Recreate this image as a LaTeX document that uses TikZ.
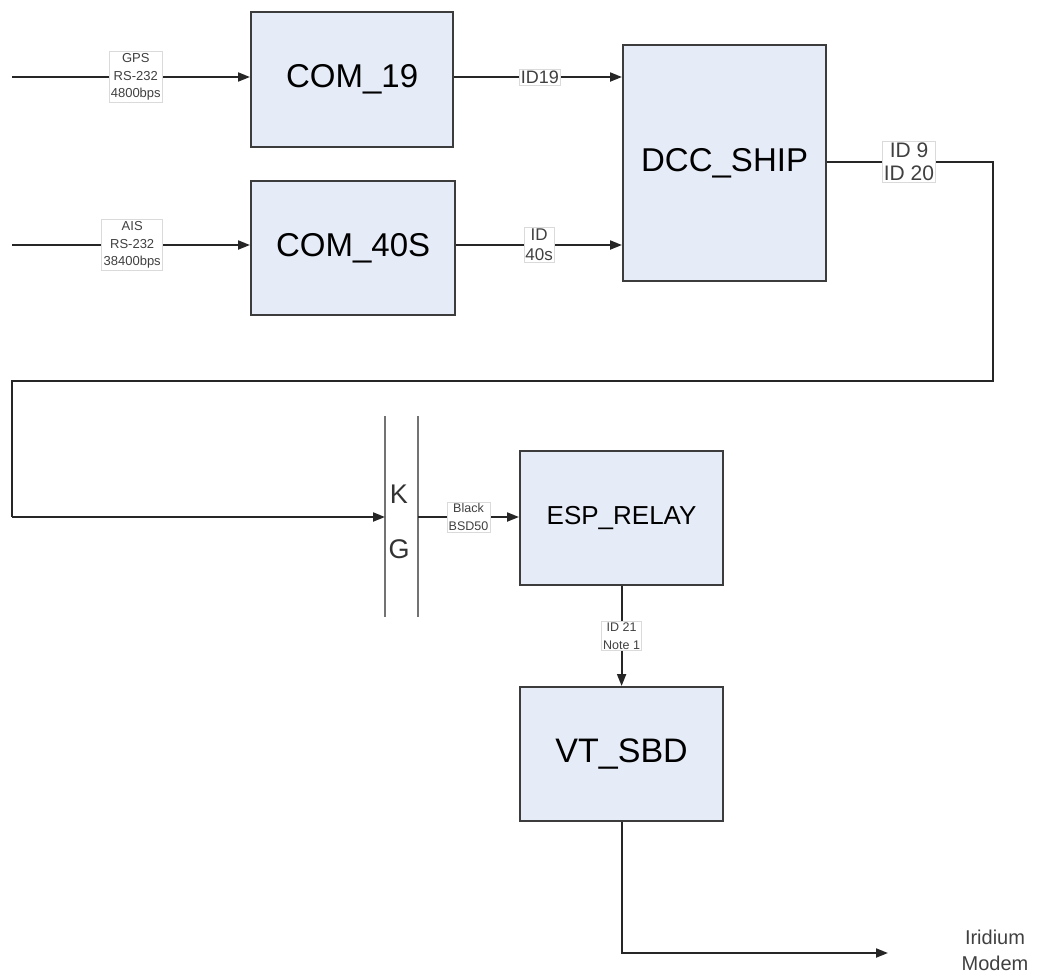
\documentclass[tikz,border=0pt]{standalone}
\usepackage{fontspec}
\setmainfont{Liberation Sans}
\usetikzlibrary{arrows.meta}
\definecolor{boxfill}{HTML}{E6ECF7}
\definecolor{boxedge}{HTML}{3C3C3C}
\definecolor{lbledge}{HTML}{DADADA}
\begin{document}
\begin{tikzpicture}[x=1pt,y=-1pt,
  blk/.style={draw=boxedge,line width=2.2pt,fill=boxfill,inner sep=0pt,anchor=north west},
  conn/.style={draw=black!85,line width=2pt},
  arr/.style={conn,-{Triangle[length=12pt,width=9pt]}},
  lbl/.style={fill=white,draw=lbledge,line width=0.6pt,align=center,inner sep=2pt,text=black!75},
  kgline/.style={draw=black!55,line width=2.4pt}]
\useasboundingbox (0,0) rectangle (1037,975);
% blocks
\node[blk,minimum width=202pt,minimum height=135pt] (c19) at (250,11) {};
\node[font=\fontsize{33}{33}\selectfont] at (c19.center) {COM\_19};
\node[blk,minimum width=204pt,minimum height=134pt] (c40) at (250,180) {};
\node[font=\fontsize{33}{33}\selectfont] at (c40.center) {COM\_40S};
\node[blk,minimum width=203pt,minimum height=236pt] (dcc) at (622,44) {};
\node[font=\fontsize{33}{33}\selectfont] at (dcc.center) {DCC\_SHIP};
\node[blk,minimum width=203pt,minimum height=134pt] (esp) at (519,450) {};
\node[font=\fontsize{26}{26}\selectfont] at (esp.center) {ESP\_RELAY};
\node[blk,minimum width=203pt,minimum height=134pt] (vt) at (519,686) {};
\node[font=\fontsize{34}{34}\selectfont] at (vt.center) {VT\_SBD};
% KG
\coordinate (kgLt) at (385,416); \coordinate (kgLb) at (385,617);
\coordinate (kgRt) at (418,416); \coordinate (kgRb) at (418,617);
\draw[kgline] (kgLt) -- (kgLb);
\draw[kgline] (kgRt) -- (kgRb);
\node[font=\fontsize{27}{27}\selectfont,text=black!80] (kK) at (399,494) {K};
\node[font=\fontsize{27}{27}\selectfont,text=black!80] (kG) at (399,549) {G};
\coordinate (kgin) at (385,517);
\coordinate (kgout) at (418,517);
% inputs
\coordinate (gpsS) at (12,77);
\coordinate (aisS) at (12,245);
\draw[arr] (gpsS) -- (gpsS -| c19.west) node[lbl,pos=0.52,font=\fontsize{13}{17.5}\selectfont] {GPS\\RS-232\\4800bps};
\draw[arr] (aisS) -- (aisS -| c40.west) node[lbl,pos=0.505,font=\fontsize{13}{17.5}\selectfont] {AIS\\RS-232\\38400bps};
% to DCC
\draw[arr] (c19.east |- gpsS) -- (dcc.west |- gpsS) node[lbl,pos=0.51,inner sep=1.5pt,font=\fontsize{18}{18}\selectfont] {ID19};
\draw[arr] (c40.east |- aisS) -- (dcc.west |- aisS) node[lbl,pos=0.5,inner sep=1.5pt,font=\fontsize{17}{20}\selectfont] {ID\\40s};
% DCC out loop to KG
\coordinate (d1) at (993,162);
\coordinate (d2) at (993,381);
\coordinate (d3) at (12,381);
\coordinate (d4) at (12,517);
\draw[conn] (dcc.east |- d1) -- (d1) -- (d2) -- (d3) -- (d4);
\draw[arr] (d4) -- (kgin);
\node[lbl,inner sep=1.5pt,font=\fontsize{21}{23}\selectfont] (idlbl) at (909,162) {ID 9\\ID 20};
% KG to ESP
\draw[arr] (kgout) -- (esp.west |- kgout) node[lbl,pos=0.5,inner sep=1.5pt,font=\fontsize{12.5}{17.5}\selectfont] {Black\\BSD50};
% ESP to VT
\draw[arr] (esp.south) -- (vt.north) node[lbl,pos=0.5,inner sep=1.5pt,font=\fontsize{12.5}{17.5}\selectfont] {ID 21\\Note 1};
% VT to Iridium
\coordinate (v2) at (888,953);
\draw[arr] (vt.south) -- (vt.south |- v2) -- (v2);
\node[align=center,font=\fontsize{20}{26}\selectfont,text=black!75] (ir) at (995,950) {Iridium\\Modem};
\end{tikzpicture}
\end{document}
